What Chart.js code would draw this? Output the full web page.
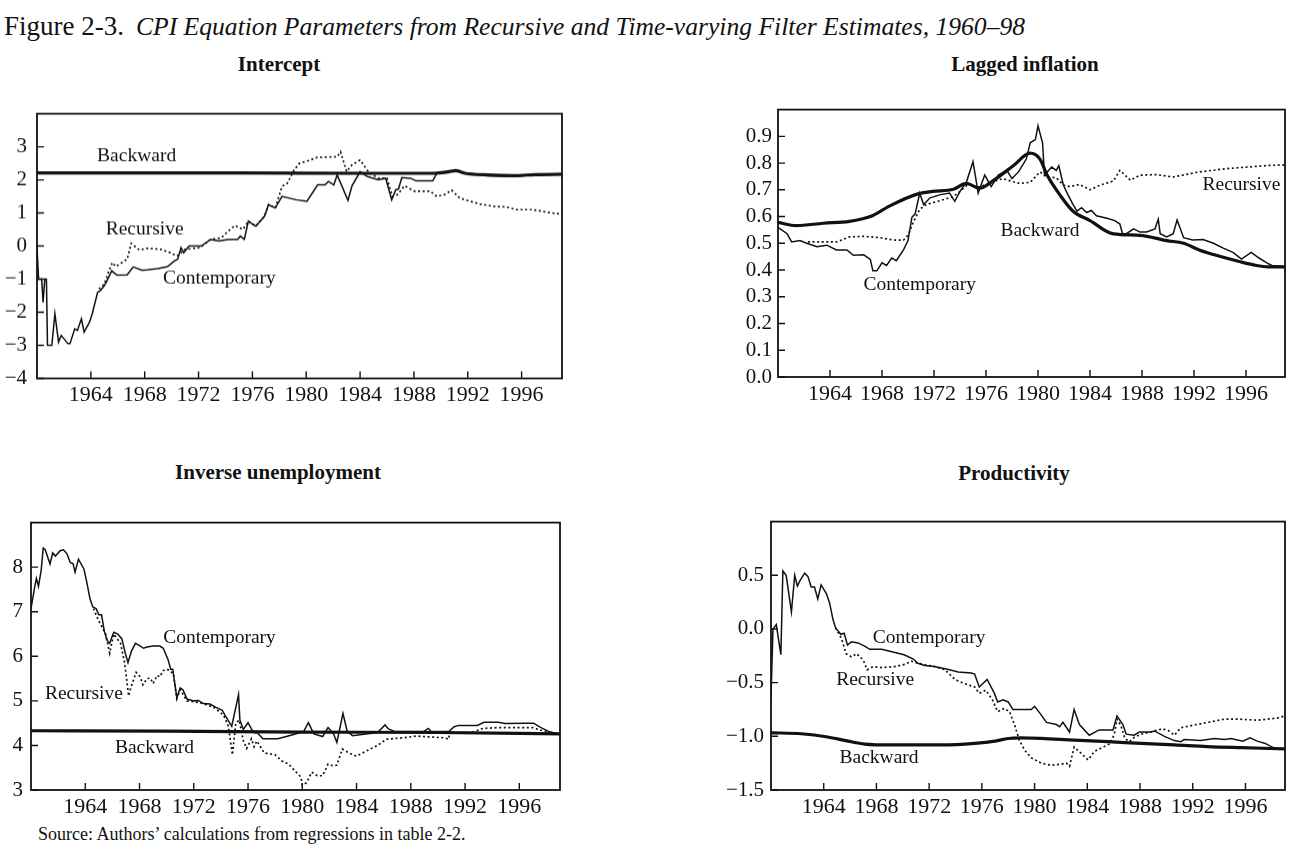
<!DOCTYPE html>
<html>
<head>
<meta charset="utf-8">
<title>Figure 2-3</title>
<script src="https://cdn.jsdelivr.net/npm/chart.js@4.4.1/dist/chart.umd.min.js"></script>
<style>
  body { margin: 0; background: #fff; width: 1311px; height: 852px; position: relative; overflow: hidden;
         font-family: "Liberation Serif", "DejaVu Serif", serif; color: #111; }
  .hdr { position: absolute; left: 4px; top: 13px; font-size: 27px; line-height: 26px; white-space: nowrap; }
  .hdr i { margin-left: 12px; font-size: 25.6px; }
  .ttl { position: absolute; width: 400px; font-size: 21px; font-weight: bold; line-height: 21px; text-align: center; }
  .src { position: absolute; left: 38px; top: 825px; font-size: 18px; line-height: 18px; white-space: nowrap; }
  .panel { position: absolute; }
</style>
</head>
<body>
<div class="hdr">Figure 2-3.<i>CPI Equation Parameters from Recursive and Time-varying Filter Estimates, 1960–98</i></div>
<div class="ttl" style="left:79px; top:54px;">Intercept</div>
<div class="ttl" style="left:825px; top:54px;">Lagged inflation</div>
<div class="ttl" style="left:78px; top:462px;">Inverse unemployment</div>
<div class="ttl" style="left:814px; top:463px;">Productivity</div>
<div class="src">Source: Authors’ calculations from regressions in table 2-2.</div>

<script>
// ---- tick labels ----
const yearTicks = [1964, 1968, 1972, 1976, 1980, 1984, 1988, 1992, 1996];
const interceptTicks = [-4, -3, -2, -1, 0, 1, 2, 3];
const lagTicks = [0.0, 0.1, 0.2, 0.3, 0.4, 0.5, 0.6, 0.7, 0.8, 0.9];
const unempTicks = [3, 4, 5, 6, 7, 8];
const prodTicks = [-1.5, -1.0, -0.5, 0.0, 0.5];

// ---- Intercept ----
const interceptBackward = [[1960, 2.21], [1975, 2.21], [1985, 2.2], [1989.5, 2.2], [1990.5, 2.24], [1991.1, 2.28],
  [1991.8, 2.2], [1993.5, 2.15], [1995.5, 2.13], [1997, 2.16], [1999, 2.17]];
const interceptContemporary = [[1960.0, -0.05], [1960.12, -1.0], [1960.35, -1.0], [1960.45, -1.7], [1960.58, -1.0],
  [1960.7, -1.0], [1960.78, -3.0], [1961.1, -3.0], [1961.33, -2.05], [1961.6, -2.9], [1961.8, -2.7], [1962.3, -2.95],
  [1962.45, -2.95], [1962.8, -2.5], [1963.0, -2.55], [1963.3, -2.2], [1963.5, -2.6], [1963.9, -2.3], [1964.1, -2.05],
  [1964.5, -1.4], [1964.7, -1.35], [1965.0, -1.2], [1965.2, -1.05], [1965.55, -0.75], [1965.95, -0.88], [1966.7, -0.87],
  [1967.15, -0.63], [1967.8, -0.73], [1968.2, -0.72], [1969.0, -0.68], [1969.7, -0.62], [1970.2, -0.45], [1970.45, -0.4],
  [1970.7, -0.05], [1970.9, -0.2], [1971.3, 0.0], [1972.2, 0.0], [1972.9, 0.2], [1973.5, 0.15], [1974.2, 0.2],
  [1974.9, 0.2], [1975.1, 0.3], [1975.4, 0.2], [1975.7, 0.75], [1976.25, 0.6], [1976.9, 0.9], [1977.2, 1.25],
  [1977.7, 1.15], [1978.2, 1.5], [1979.25, 1.4], [1980.05, 1.35], [1980.85, 1.85], [1981.4, 1.85], [1981.65, 1.95],
  [1982.05, 1.85], [1982.3, 2.15], [1983.1, 1.38], [1983.4, 1.82], [1984.0, 2.25], [1984.55, 2.1], [1985.35, 2.0],
  [1985.9, 2.05], [1986.35, 1.4], [1986.65, 1.7], [1986.85, 1.72], [1987.1, 2.07], [1987.75, 2.05], [1988.15, 1.97],
  [1989.4, 1.97], [1989.7, 2.2], [1990.5, 2.22], [1991.1, 2.3], [1991.8, 2.2], [1993.5, 2.12], [1995.5, 2.1],
  [1997, 2.15], [1999, 2.17]];
const interceptRecursive = [[1964.6, -1.3], [1965.0, -1.15], [1965.3, -0.8], [1965.6, -0.5], [1965.85, -0.62],
  [1966.7, -0.4], [1967.0, 0.08], [1967.6, -0.12], [1968.2, -0.07], [1969.2, -0.1], [1969.9, -0.2], [1970.4, -0.3],
  [1971.0, -0.1], [1972.1, -0.05], [1972.9, 0.2], [1973.7, 0.25], [1974.2, 0.45], [1974.7, 0.62], [1975.3, 0.5],
  [1975.7, 0.75], [1976.25, 0.6], [1976.9, 0.9], [1977.2, 1.25], [1977.7, 1.15], [1978.2, 1.8], [1978.6, 1.9],
  [1979.1, 2.3], [1979.5, 2.5], [1980.3, 2.6], [1980.8, 2.68], [1982.3, 2.7], [1982.55, 2.85], [1983.0, 2.25],
  [1983.4, 2.45], [1984.0, 2.6], [1984.7, 2.2], [1985.4, 2.05], [1986.0, 2.05], [1986.4, 1.5], [1986.8, 1.56],
  [1987.3, 1.82], [1988.0, 1.66], [1989.2, 1.66], [1989.7, 1.5], [1990.3, 1.56], [1990.8, 1.69], [1991.4, 1.45],
  [1992.05, 1.37], [1992.9, 1.27], [1993.9, 1.2], [1994.9, 1.18], [1995.6, 1.1], [1996.8, 1.1], [1997.8, 1.03],
  [1999, 0.96]];
const interceptLabels = [['Backward', 1967.4, 2.71], ['Recursive', 1968.0, 0.5], ['Contemporary', 1973.55, -0.97]];

// ---- Lagged inflation ----
const lagBackward = [[1960, 0.578], [1961.4, 0.566], [1963.5, 0.575], [1965.5, 0.582], [1967.1, 0.6], [1968.6, 0.64],
  [1970.7, 0.684], [1971.9, 0.694], [1973.5, 0.702], [1974.5, 0.724], [1975.5, 0.706], [1976.6, 0.736], [1978.1, 0.79],
  [1979.4, 0.837], [1980.15, 0.815], [1980.7, 0.755], [1981.7, 0.68], [1982.7, 0.62], [1984.0, 0.585], [1985.8, 0.535],
  [1987.85, 0.53], [1989.9, 0.51], [1991.2, 0.5], [1992.4, 0.475], [1993.5, 0.458], [1995.4, 0.433], [1996.8, 0.417],
  [1997.7, 0.412], [1999, 0.412]];
const lagContemporary = [[1960.0, 0.56], [1960.7, 0.536], [1961.05, 0.505], [1961.7, 0.51], [1962.2, 0.5],
  [1963.0, 0.487], [1963.75, 0.493], [1964.5, 0.475], [1965.3, 0.475], [1965.8, 0.455], [1966.6, 0.457],
  [1967.1, 0.44], [1967.3, 0.397], [1967.6, 0.397], [1968.0, 0.427], [1968.35, 0.417], [1968.75, 0.445],
  [1969.1, 0.435], [1969.65, 0.475], [1970.0, 0.51], [1970.3, 0.597], [1970.55, 0.61], [1970.9, 0.688],
  [1971.2, 0.645], [1971.7, 0.67], [1972.5, 0.682], [1973.2, 0.688], [1973.6, 0.657], [1974.0, 0.694], [1974.5, 0.73],
  [1975.0, 0.805], [1975.4, 0.688], [1975.9, 0.755], [1976.4, 0.712], [1976.95, 0.755], [1977.6, 0.773],
  [1978.0, 0.742], [1978.5, 0.767], [1979.1, 0.815], [1979.4, 0.876], [1979.8, 0.888], [1980.0, 0.939],
  [1980.35, 0.876], [1980.5, 0.755], [1981.05, 0.785], [1981.4, 0.773], [1981.6, 0.79], [1981.95, 0.718],
  [1982.3, 0.682], [1982.7, 0.645], [1983.0, 0.62], [1983.35, 0.633], [1983.75, 0.615], [1984.1, 0.623],
  [1984.5, 0.603], [1985.3, 0.594], [1985.9, 0.585], [1986.3, 0.572], [1986.5, 0.536], [1986.8, 0.536],
  [1987.35, 0.554], [1987.85, 0.542], [1988.35, 0.542], [1989.0, 0.554], [1989.25, 0.59], [1989.4, 0.536],
  [1989.9, 0.524], [1990.4, 0.536], [1990.7, 0.587], [1991.2, 0.521], [1991.9, 0.512], [1992.7, 0.514],
  [1993.5, 0.5], [1994.25, 0.482], [1995.0, 0.466], [1995.65, 0.441], [1996.4, 0.466], [1997.0, 0.445],
  [1997.6, 0.427], [1998.0, 0.417], [1999, 0.412]];
const lagRecursive = [[1962.3, 0.505], [1963.5, 0.505], [1964.5, 0.505], [1965.5, 0.524], [1966.6, 0.526],
  [1967.85, 0.521], [1968.9, 0.512], [1969.65, 0.512], [1970.0, 0.53], [1970.4, 0.578], [1970.9, 0.627],
  [1971.4, 0.645], [1972.5, 0.66], [1973.5, 0.675], [1974.0, 0.694], [1974.6, 0.72], [1975.5, 0.71], [1976.5, 0.73],
  [1977.3, 0.742], [1978.1, 0.73], [1978.6, 0.724], [1979.4, 0.728], [1980.15, 0.767], [1980.7, 0.748],
  [1981.4, 0.745], [1981.95, 0.718], [1982.45, 0.712], [1983.2, 0.72], [1984.0, 0.7], [1984.8, 0.718],
  [1985.8, 0.733], [1986.3, 0.773], [1987.1, 0.736], [1987.85, 0.755], [1989.1, 0.757], [1990.4, 0.748],
  [1992.4, 0.767], [1994.5, 0.779], [1996.0, 0.785], [1997.7, 0.791], [1999, 0.793]];
const lagLabels = [['Recursive', 1995.65, 0.72], ['Backward', 1980.15, 0.548], ['Contemporary', 1970.9, 0.344]];

// ---- Inverse unemployment ----
const unempBackward = [[1960, 4.33], [1970, 4.32], [1980, 4.3], [1990, 4.29], [1999, 4.26]];
const unempContemporary = [[1960.0, 7.07], [1960.3, 7.6], [1960.4, 7.75], [1960.55, 7.57], [1960.75, 7.93],
  [1960.9, 8.43], [1961.05, 8.39], [1961.4, 8.07], [1961.6, 8.32], [1961.8, 8.25], [1962.15, 8.37], [1962.4, 8.39],
  [1962.65, 8.3], [1962.9, 8.1], [1963.1, 8.08], [1963.25, 7.89], [1963.5, 8.18], [1963.9, 7.96], [1964.1, 7.68],
  [1964.35, 7.29], [1964.55, 7.11], [1964.8, 7.07], [1965.0, 6.93], [1965.2, 6.93], [1965.4, 6.57], [1965.6, 6.36],
  [1965.8, 6.29], [1966.1, 6.54], [1966.4, 6.5], [1966.7, 6.39], [1966.95, 6.07], [1967.15, 5.86], [1967.4, 6.11],
  [1967.7, 6.29], [1967.95, 6.25], [1968.3, 6.18], [1968.55, 6.21], [1969.0, 6.23], [1969.5, 6.23], [1969.75, 6.18],
  [1970.1, 5.93], [1970.3, 5.71], [1970.45, 5.71], [1970.75, 5.07], [1971.0, 5.29], [1971.2, 5.25], [1971.5, 5.04],
  [1972.0, 5.0], [1972.35, 5.01], [1972.7, 4.94], [1973.2, 4.93], [1973.6, 4.86], [1974.1, 4.79], [1974.3, 4.68],
  [1974.8, 4.43], [1975.3, 5.14], [1975.4, 4.57], [1975.65, 4.36], [1976.0, 4.51], [1976.4, 4.29], [1976.7, 4.28],
  [1977.1, 4.15], [1978.2, 4.15], [1979.3, 4.24], [1980.1, 4.31], [1980.45, 4.51], [1980.85, 4.26], [1981.5, 4.2],
  [1981.9, 4.4], [1982.3, 4.26], [1982.55, 4.07], [1983.0, 4.72], [1983.3, 4.33], [1983.7, 4.22], [1984.25, 4.24],
  [1985.55, 4.29], [1986.1, 4.46], [1986.35, 4.37], [1986.85, 4.31], [1988.95, 4.31], [1989.3, 4.38],
  [1989.5, 4.31], [1990.8, 4.31], [1991.2, 4.42], [1991.55, 4.45], [1992.9, 4.45], [1993.4, 4.52], [1994.45, 4.52],
  [1994.95, 4.49], [1996.5, 4.5], [1997.05, 4.5], [1997.6, 4.4], [1998.2, 4.31], [1999, 4.25]];
const unempRecursive = [[1964.6, 7.07], [1965.0, 6.79], [1965.2, 6.68], [1965.5, 6.5], [1965.8, 6.07], [1966.1, 6.5],
  [1966.6, 6.29], [1966.9, 5.86], [1967.2, 5.11], [1967.35, 5.29], [1967.75, 5.64], [1968.05, 5.54], [1968.25, 5.36],
  [1968.55, 5.5], [1968.8, 5.51], [1969.0, 5.39], [1969.3, 5.57], [1969.5, 5.54], [1969.75, 5.68], [1970.0, 5.71],
  [1970.25, 5.68], [1970.5, 5.6], [1970.75, 5.05], [1971.0, 5.25], [1971.5, 5.0], [1972.45, 4.96], [1973.45, 4.86],
  [1974.2, 4.68], [1974.55, 4.43], [1974.85, 3.79], [1975.1, 4.5], [1975.35, 4.57], [1975.65, 4.11], [1975.9, 3.93],
  [1976.25, 4.15], [1976.45, 3.97], [1976.65, 4.1], [1977.2, 3.83], [1978.0, 3.79], [1978.5, 3.65], [1979.0, 3.58],
  [1979.55, 3.4], [1979.9, 3.29], [1980.0, 3.11], [1980.3, 3.16], [1980.7, 3.4], [1981.1, 3.32], [1981.5, 3.32],
  [1981.9, 3.58], [1982.3, 3.54], [1982.55, 3.56], [1982.95, 3.92], [1983.45, 3.83], [1984.0, 3.76], [1984.75, 3.88],
  [1985.55, 4.0], [1986.2, 4.14], [1987.4, 4.17], [1988.4, 4.21], [1990.5, 4.17], [1990.8, 4.14], [1990.85, 4.28],
  [1992.5, 4.29], [1993.3, 4.38], [1994.4, 4.4], [1997.0, 4.4], [1997.6, 4.34], [1999, 4.25]];
const unempLabels = [['Contemporary', 1973.9, 6.42], ['Recursive', 1963.9, 5.16], ['Backward', 1969.1, 3.94]];

// ---- Productivity ----
const prodBackward = [[1960, -0.967], [1962.3, -0.976], [1964.3, -1.006], [1965.85, -1.045], [1967.1, -1.072],
  [1969.1, -1.08], [1972.9, -1.08], [1975.45, -1.066], [1977.0, -1.045], [1978.0, -1.02], [1979.0, -1.015],
  [1980.5, -1.02], [1983.0, -1.036], [1985.55, -1.05], [1988.1, -1.066], [1990.6, -1.08], [1993.1, -1.096],
  [1995.7, -1.106], [1999, -1.117]];
const prodContemporary = [[1960.0, -0.63], [1960.15, 0.0], [1960.4, 0.04], [1960.75, -0.24], [1960.9, 0.54],
  [1961.15, 0.5], [1961.55, 0.16], [1961.8, 0.5], [1962.0, 0.4], [1962.2, 0.45], [1962.55, 0.52], [1962.8, 0.49],
  [1963.05, 0.39], [1963.3, 0.39], [1963.55, 0.28], [1963.8, 0.41], [1964.2, 0.33], [1964.45, 0.24], [1964.7, 0.09],
  [1964.9, 0.01], [1965.1, -0.02], [1965.3, -0.05], [1965.55, -0.04], [1965.8, -0.15], [1966.1, -0.12],
  [1966.6, -0.13], [1967.1, -0.16], [1967.5, -0.19], [1968.4, -0.19], [1969.1, -0.21], [1970.1, -0.24],
  [1970.8, -0.28], [1971.15, -0.32], [1971.65, -0.34], [1972.4, -0.35], [1973.55, -0.38], [1974.2, -0.4],
  [1975.2, -0.41], [1975.45, -0.42], [1975.8, -0.54], [1976.4, -0.47], [1976.95, -0.6], [1977.2, -0.68],
  [1977.6, -0.66], [1978.0, -0.68], [1978.35, -0.75], [1979.75, -0.75], [1980.0, -0.72], [1980.5, -0.8],
  [1980.9, -0.87], [1981.65, -0.89], [1981.9, -0.91], [1982.15, -0.87], [1982.65, -0.96], [1983.0, -0.75],
  [1983.4, -0.89], [1984.15, -0.99], [1984.9, -0.94], [1985.95, -0.94], [1986.25, -0.81], [1986.7, -0.89],
  [1986.95, -0.98], [1987.55, -0.99], [1987.95, -0.96], [1988.85, -0.96], [1989.1, -0.95], [1989.85, -1.0],
  [1990.6, -1.04], [1991.1, -1.05], [1991.35, -1.03], [1992.6, -1.04], [1993.65, -1.02], [1994.4, -1.03],
  [1994.9, -1.02], [1995.8, -1.045], [1996.35, -1.015], [1996.9, -1.045], [1997.5, -1.066], [1998.1, -1.105],
  [1998.5, -1.115], [1999, -1.117]];
const prodRecursive = [[1964.9, 0.01], [1965.35, -0.09], [1965.7, -0.23], [1966.1, -0.26], [1966.5, -0.23],
  [1967.0, -0.29], [1967.3, -0.38], [1967.75, -0.35], [1968.4, -0.36], [1969.4, -0.35], [1970.15, -0.33],
  [1970.65, -0.3], [1971.15, -0.32], [1972.4, -0.35], [1973.2, -0.38], [1973.45, -0.41], [1973.95, -0.47],
  [1974.7, -0.51], [1975.45, -0.54], [1975.8, -0.6], [1976.3, -0.57], [1976.8, -0.66], [1977.2, -0.77],
  [1977.7, -0.74], [1978.1, -0.77], [1978.5, -0.9], [1978.85, -1.04], [1979.25, -1.13], [1979.75, -1.2],
  [1980.5, -1.25], [1981.25, -1.27], [1982.0, -1.26], [1982.4, -1.25], [1982.65, -1.28], [1983.0, -1.1],
  [1983.55, -1.16], [1984.05, -1.22], [1984.55, -1.14], [1985.2, -1.1], [1985.7, -1.07], [1986.05, -0.98],
  [1986.25, -0.84], [1986.55, -0.9], [1986.85, -1.02], [1987.2, -1.05], [1987.55, -1.01], [1988.1, -0.98],
  [1989.1, -0.95], [1989.7, -0.93], [1990.2, -0.95], [1990.6, -0.99], [1991.1, -0.92], [1991.9, -0.9],
  [1993.15, -0.87], [1994.4, -0.84], [1995.5, -0.84], [1996.9, -0.85], [1998.4, -0.83], [1999, -0.81]];
const prodLabels = [['Contemporary', 1972.0, -0.08], ['Recursive', 1967.9, -0.47], ['Backward', 1968.2, -1.2]];

// ---- drawing ----
const INK = '#111';
const SERIF = '"Liberation Serif", "DejaVu Serif", serif';
const XAXIS_H = 34, PAD_T = 10, PAD_R = 10;
Chart.defaults.font.family = SERIF;
Chart.defaults.color = INK;

const minus = s => s.replace('-', '\u2212');
const toPts = arr => arr.map(([x, y]) => ({ x: x, y: y }));

// box, inward tick marks and the curve names
const framePlugin = {
  id: 'frame',
  afterDatasetsDraw(chart, args, opts) {
    const { ctx, chartArea: a, scales: { x, y } } = chart;
    ctx.save();
    ctx.strokeStyle = INK;
    ctx.lineWidth = 1.8;
    ctx.strokeRect(a.left, a.top, a.right - a.left, a.bottom - a.top);
    ctx.lineWidth = 1.4;
    ctx.beginPath();
    x.ticks.forEach(t => {
      const px = x.getPixelForValue(t.value);
      ctx.moveTo(px, a.bottom); ctx.lineTo(px, a.bottom - 7);
    });
    y.ticks.forEach(t => {
      const py = y.getPixelForValue(t.value);
      ctx.moveTo(a.left, py); ctx.lineTo(a.left + 7, py);
    });
    ctx.stroke();
    ctx.fillStyle = INK;
    ctx.font = '19.5px ' + SERIF;
    ctx.textAlign = 'center';
    ctx.textBaseline = 'middle';
    (opts.labels || []).forEach(([txt, lx, ly]) => {
      ctx.fillText(txt, x.getPixelForValue(lx), y.getPixelForValue(ly));
    });
    ctx.restore();
  }
};

function makePanel(box, yW, yPad, yMin, yMax, yTicks, fmt, backward, contemporary, recursive, labels) {
  const div = document.createElement('div');
  div.className = 'panel';
  div.style.left = (box.l - yW) + 'px';
  div.style.top = (box.t - PAD_T) + 'px';
  div.style.width = (box.r - box.l + yW + PAD_R) + 'px';
  div.style.height = (box.b - box.t + PAD_T + XAXIS_H) + 'px';
  const cv = document.createElement('canvas');
  div.appendChild(cv);
  document.body.appendChild(div);

  new Chart(cv, {
    type: 'line',
    data: {
      datasets: [
        { label: 'Backward', data: toPts(backward), borderColor: INK, borderWidth: 3.2,
          pointRadius: 0, cubicInterpolationMode: 'monotone' },
        { label: 'Contemporary', data: toPts(contemporary), borderColor: INK, borderWidth: 1.5,
          pointRadius: 0, tension: 0 },
        { label: 'Recursive', data: toPts(recursive), borderColor: INK, borderWidth: 1.7,
          borderDash: [2, 2.6], pointRadius: 0, tension: 0 }
      ]
    },
    options: {
      responsive: true,
      maintainAspectRatio: false,
      animation: false,
      events: [],
      layout: { padding: { top: PAD_T, right: PAD_R, left: 0, bottom: 0 } },
      plugins: {
        legend: { display: false },
        tooltip: { enabled: false },
        frame: { labels: labels }
      },
      scales: {
        x: {
          type: 'linear', min: 1960, max: 1999,
          afterBuildTicks: s => { s.ticks = yearTicks.map(v => ({ value: v })); },
          afterFit: s => { s.height = XAXIS_H; },
          grid: { display: false, drawTicks: false },
          border: { display: false },
          ticks: { color: INK, font: { size: 22 }, padding: 4, maxRotation: 0, autoSkip: false,
                   callback: v => String(v) }
        },
        y: {
          type: 'linear', min: yMin, max: yMax,
          afterBuildTicks: s => { s.ticks = yTicks.map(v => ({ value: v })); },
          afterFit: s => { s.width = yW; },
          grid: { display: false, drawTicks: false },
          border: { display: false },
          ticks: { color: INK, font: { size: 21 }, padding: yPad, autoSkip: false, callback: v => fmt(v) }
        }
      }
    },
    plugins: [framePlugin]
  });
}

makePanel({ l: 37, t: 101, r: 562, b: 377.5 }, 37, 10, -4, 4, interceptTicks, v => minus(String(v)),
  interceptBackward, interceptContemporary, interceptRecursive, interceptLabels);
makePanel({ l: 778, t: 101, r: 1285, b: 377 }, 50, 6, 0, 1, lagTicks, v => v.toFixed(1),
  lagBackward, lagContemporary, lagRecursive, lagLabels);
makePanel({ l: 31, t: 512, r: 560, b: 790 }, 31, 8, 3, 9, unempTicks, v => String(v),
  unempBackward, unempContemporary, unempRecursive, unempLabels);
makePanel({ l: 771, t: 512, r: 1285, b: 790 }, 50, 7, -1.5, 1.0, prodTicks, v => minus(v.toFixed(1)),
  prodBackward, prodContemporary, prodRecursive, prodLabels);
</script>
</body>
</html>
